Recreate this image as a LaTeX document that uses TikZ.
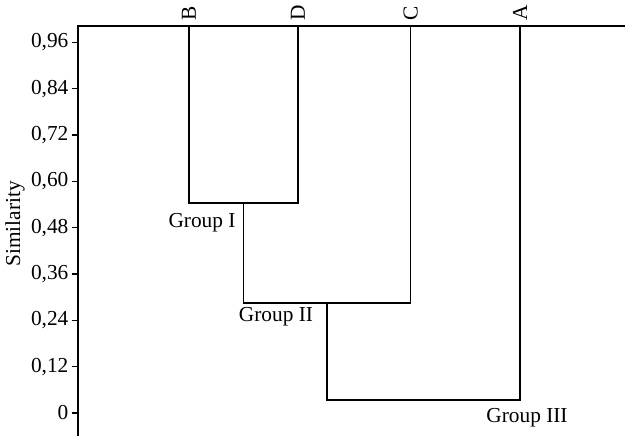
\documentclass[tikz,border=0pt]{standalone}
\usepackage{fontspec}
\setmainfont{Liberation Serif}
\begin{document}
\begin{tikzpicture}[x=0.75pt,y=-0.75pt,line width=0.9pt,
  lbl/.style={font=\fontsize{16}{19}\selectfont,inner sep=0pt},
  ticklbl/.style={lbl,anchor=east},
  leaf/.style={lbl,rotate=90,anchor=west},
  grouplbl/.style={lbl,anchor=center}]
\useasboundingbox (0,0) rectangle (625,436);
% axes
\coordinate (ybot) at (78,436);
\coordinate (ytop) at (78,26);
\coordinate (xend) at (625,26);
\draw (ybot) -- (ytop) -- (xend);
% similarity ticks and labels
\foreach \lab/\y [count=\i] in {{0}/413,{0,12}/366.7,{0,24}/320.3,{0,36}/274,{0,48}/227.7,{0,60}/181.3,{0,72}/135,{0,84}/88.7,{0,96}/42.3}{
  \node[ticklbl] (t\i) at (69,\y) {\lab};
  \draw (71.5,\y) -- (78,\y);
}
\node[lbl,rotate=90] (ylab) at (15,224) {Similarity};
% leaves
\coordinate (B) at (189,26);
\coordinate (D) at (298,26);
\coordinate (C) at (410.7,26);
\coordinate (A) at (520,26);
\node[leaf] (lB) at (189,21) {B};
\node[leaf] (lD) at (298,21) {D};
\node[leaf] (lC) at (410.7,21) {C};
\node[leaf] (lA) at (520,21) {A};
% merges
\coordinate (BD) at (243.5,203);
\coordinate (BDC) at (327,303);
\coordinate (root) at (423.5,400);
\draw (B) |- (BD) -| (D);
\draw (BD) |- (BDC) -| (C);
\draw (BDC) |- (root) -| (A);
% group labels
\node[grouplbl] (g1) at (202,223) {Group I};
\node[grouplbl] (g2) at (276,317) {Group II};
\node[grouplbl] (g3) at (527,418) {Group III};
\end{tikzpicture}
\end{document}
